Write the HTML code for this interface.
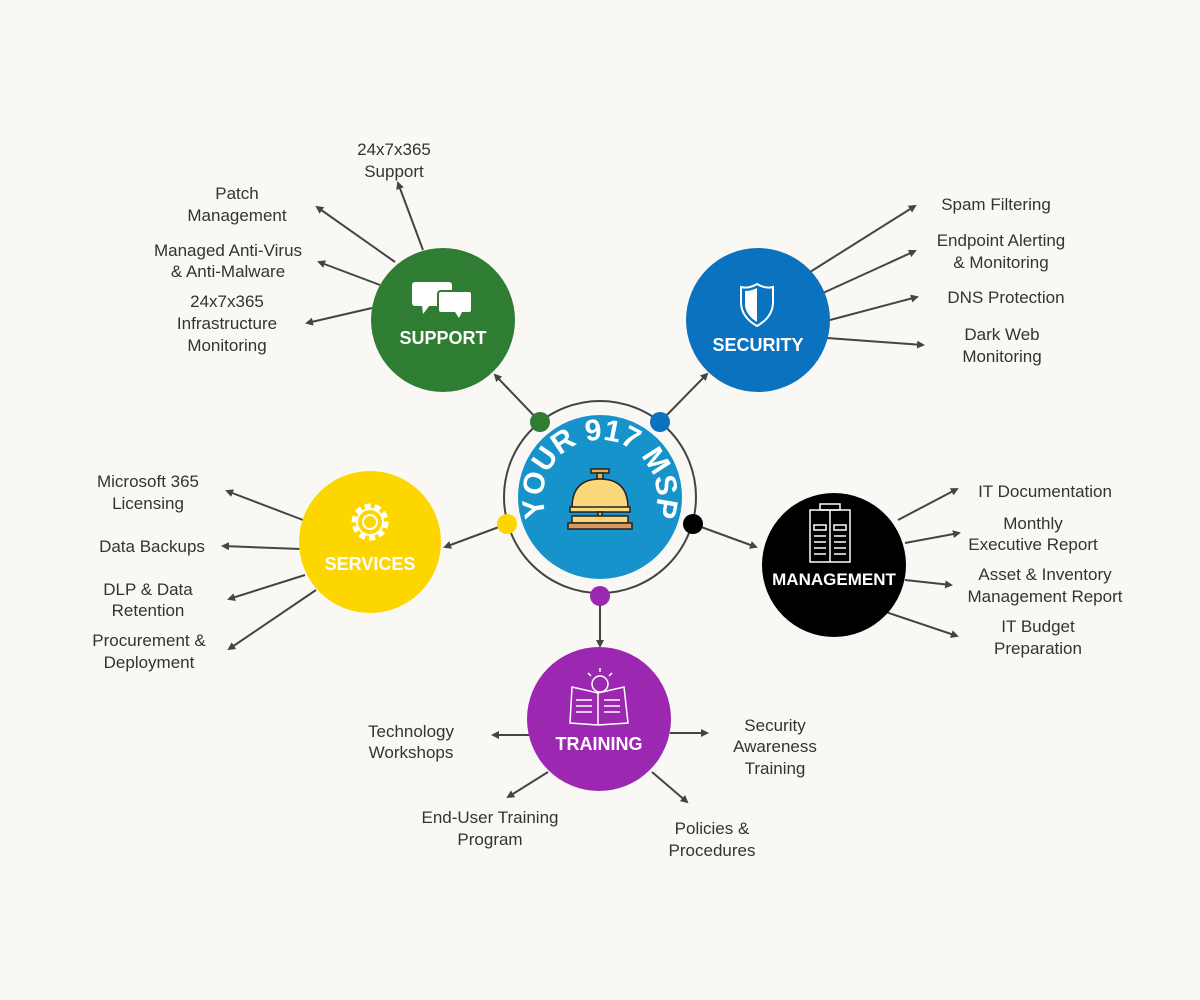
<!DOCTYPE html>
<html><head><meta charset="utf-8"><style>
html,body{margin:0;padding:0;background:#f9f8f5;}
svg{display:block;}
.t{font-family:"Liberation Sans",sans-serif;font-size:17px;fill:#333;text-anchor:middle;}
.h{font-family:"Liberation Sans",sans-serif;font-size:18px;font-weight:bold;fill:#fff;text-anchor:middle;}
.l{stroke:#444;stroke-width:2;fill:none;marker-end:url(#a);}
</style></head><body>
<svg width="1200" height="1000" viewBox="0 0 1200 1000">
<defs>
<marker id="a" markerWidth="8" markerHeight="8" refX="6" refY="4" orient="auto" markerUnits="userSpaceOnUse"><path d="M0,0 L8,4 L0,8 z" fill="#444"/></marker>
<path id="arc" d="M 559.7 537.3 A 57 57 0 1 1 640.3 537.3"/>
</defs>
<rect width="1200" height="1000" fill="#f9f8f5"/>
<!-- spoke lines -->
<line class="l" x1="540" y1="422" x2="495" y2="375"/>
<line class="l" x1="660" y1="422" x2="707" y2="374"/>
<line class="l" x1="507" y1="524" x2="445" y2="547"/>
<line class="l" x1="693" y1="524" x2="756" y2="547"/>
<line class="l" x1="600" y1="596" x2="600" y2="646"/>
<!-- branches -->
<line class="l" x1="423" y1="250" x2="398" y2="183"/>
<line class="l" x1="395" y1="262" x2="317" y2="207"/>
<line class="l" x1="380" y1="285" x2="319" y2="262"/>
<line class="l" x1="372" y1="308" x2="307" y2="323"/>
<line class="l" x1="810" y1="272" x2="915" y2="206"/>
<line class="l" x1="823" y1="293" x2="915" y2="251"/>
<line class="l" x1="830" y1="320" x2="917" y2="297"/>
<line class="l" x1="827" y1="338" x2="923" y2="345"/>
<line class="l" x1="303" y1="520" x2="227" y2="491"/>
<line class="l" x1="300" y1="549" x2="223" y2="546"/>
<line class="l" x1="305" y1="575" x2="229" y2="599"/>
<line class="l" x1="316" y1="590" x2="229" y2="649"/>
<line class="l" x1="898" y1="520" x2="957" y2="489"/>
<line class="l" x1="905" y1="543" x2="959" y2="533"/>
<line class="l" x1="905" y1="580" x2="951" y2="585"/>
<line class="l" x1="880" y1="610" x2="957" y2="636"/>
<line class="l" x1="530" y1="735" x2="493" y2="735"/>
<line class="l" x1="670" y1="733" x2="707" y2="733"/>
<line class="l" x1="548" y1="772" x2="508" y2="797"/>
<line class="l" x1="652" y1="772" x2="687" y2="802"/>
<!-- center -->
<circle cx="600" cy="497" r="96" fill="none" stroke="#444" stroke-width="2"/>
<circle cx="600" cy="497" r="82" fill="#1693cb"/>
<text font-family="Liberation Sans,sans-serif" font-size="30" font-weight="bold" fill="#fff"><textPath href="#arc" startOffset="50%" text-anchor="middle">YOUR 917 MSP</textPath></text>
<!-- bell -->
<g stroke="#222" stroke-width="1.5">
<rect x="591" y="469" width="18" height="4" fill="#e8b04a"/>
<rect x="597" y="473" width="6" height="6" fill="#e8b04a"/>
<path d="M572 508 Q572 479 600 479 Q628 479 628 508 Z" fill="#fbd77a"/>
<rect x="570" y="507" width="60" height="5" fill="#fbd77a"/>
<rect x="598" y="512" width="4" height="4" fill="#e8b04a"/>
<rect x="572" y="516" width="56" height="7" fill="#fbd77a"/>
<rect x="568" y="523" width="64" height="6" fill="#d89a5a"/>
</g>
<!-- dots -->
<circle cx="540" cy="422" r="10" fill="#2e7d32"/>
<circle cx="660" cy="422" r="10" fill="#0a72be"/>
<circle cx="507" cy="524" r="10" fill="#fdd600"/>
<circle cx="693" cy="524" r="10" fill="#000"/>
<circle cx="600" cy="596" r="10" fill="#9c27b0"/>
<!-- support -->
<circle cx="443" cy="320" r="72" fill="#2e7d32"/>
<g fill="#fff"><rect x="412" y="282" width="40" height="24" rx="3"/><path d="M422 305 L423 314 L430 305Z"/>
<rect x="438" y="291" width="34" height="22" rx="3" stroke="#2e7d32" stroke-width="2"/><path d="M455 312 L459 318 L462 312Z"/></g>
<text class="h" x="443" y="344">SUPPORT</text>
<!-- security -->
<circle cx="758" cy="320" r="72" fill="#0a72be"/>
<path d="M741 287 Q749 289 757 284 Q765 289 773 287 L773 302 Q773 317 757 326 Q741 317 741 302Z" fill="none" stroke="#fff" stroke-width="2"/>
<path d="M757 288 L757 322 Q744 314 745 302 L745 291 Q751 291 757 288Z" fill="#fff"/>
<text class="h" x="758" y="351">SECURITY</text>
<!-- services -->
<circle cx="370" cy="542" r="71" fill="#fdd600"/>
<g fill="none" stroke="#fff" stroke-width="2"><circle cx="370" cy="522" r="16" stroke-dasharray="6 4" stroke-width="5"/><circle cx="370" cy="522" r="13"/><circle cx="370" cy="522" r="7"/></g>
<text class="h" x="370" y="570">SERVICES</text>
<!-- management -->
<circle cx="834" cy="565" r="72" fill="#000"/>
<g fill="none" stroke="#fff" stroke-width="1.5"><rect x="810" y="510" width="40" height="52"/><rect x="820" y="504" width="20" height="6"/><line x1="830" y1="510" x2="830" y2="562"/>
<rect x="814" y="525" width="12" height="5"/><rect x="834" y="525" width="12" height="5"/>
<path d="M814 536h12M814 542h12M814 548h12M814 554h12M834 536h12M834 542h12M834 548h12M834 554h12"/></g>
<text class="h" x="834" y="585" style="font-size:17px">MANAGEMENT</text>
<!-- training -->
<circle cx="599" cy="719" r="72" fill="#9c27b0"/>
<g fill="none" stroke="#fff" stroke-width="1.5"><path d="M572 687 L598 693 L624 687 L628 723 L598 725 L570 723Z"/><line x1="598" y1="693" x2="598" y2="725"/>
<circle cx="600" cy="684" r="8"/><path d="M576 700h16M576 706h16M576 712h16M604 700h16M604 706h16M604 712h16"/><path d="M600 668v4M588 673l3 3M612 673l-3 3"/></g>
<text class="h" x="599" y="750">TRAINING</text>
<!-- labels -->
<text class="t" x="394" y="155">24x7x365</text><text class="t" x="394" y="177">Support</text>
<text class="t" x="237" y="199">Patch</text><text class="t" x="237" y="221">Management</text>
<text class="t" x="228" y="256">Managed Anti-Virus</text><text class="t" x="228" y="277">&amp; Anti-Malware</text>
<text class="t" x="227" y="307">24x7x365</text><text class="t" x="227" y="329">Infrastructure</text><text class="t" x="227" y="351">Monitoring</text>
<text class="t" x="996" y="210">Spam Filtering</text>
<text class="t" x="1001" y="246">Endpoint Alerting</text><text class="t" x="1001" y="268">&amp; Monitoring</text>
<text class="t" x="1006" y="303">DNS Protection</text>
<text class="t" x="1002" y="340">Dark Web</text><text class="t" x="1002" y="362">Monitoring</text>
<text class="t" x="148" y="487">Microsoft 365</text><text class="t" x="148" y="509">Licensing</text>
<text class="t" x="152" y="552">Data Backups</text>
<text class="t" x="148" y="595">DLP &amp; Data</text><text class="t" x="148" y="616">Retention</text>
<text class="t" x="149" y="646">Procurement &amp;</text><text class="t" x="149" y="668">Deployment</text>
<text class="t" x="1045" y="497">IT Documentation</text>
<text class="t" x="1033" y="529">Monthly</text><text class="t" x="1033" y="550">Executive Report</text>
<text class="t" x="1045" y="580">Asset &amp; Inventory</text><text class="t" x="1045" y="602">Management Report</text>
<text class="t" x="1038" y="632">IT Budget</text><text class="t" x="1038" y="654">Preparation</text>
<text class="t" x="411" y="737">Technology</text><text class="t" x="411" y="758">Workshops</text>
<text class="t" x="775" y="731">Security</text><text class="t" x="775" y="752">Awareness</text><text class="t" x="775" y="774">Training</text>
<text class="t" x="490" y="823">End-User Training</text><text class="t" x="490" y="845">Program</text>
<text class="t" x="712" y="834">Policies &amp;</text><text class="t" x="712" y="856">Procedures</text>
</svg>
</body></html>
